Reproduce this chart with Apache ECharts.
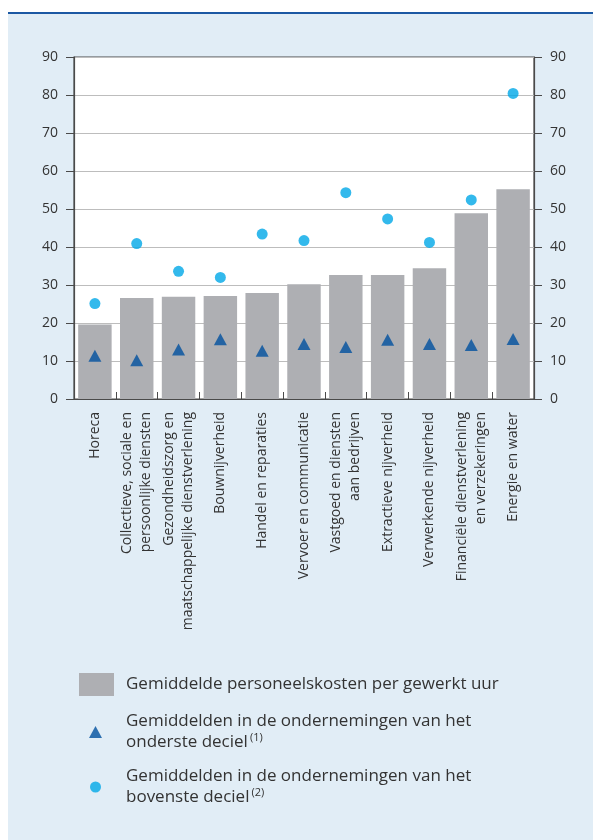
<!DOCTYPE html>
<html>
<head>
<meta charset="utf-8">
<script src="https://cdn.jsdelivr.net/npm/echarts@6/dist/echarts.min.js"></script>
<style>
  html, body { margin: 0; padding: 0; background: #ffffff; }
  #panel {
    position: absolute; left: 8px; top: 12px; right: 0; bottom: 0;
    background: #e1edf6; border-top: 2px solid #1b58a3;
  }
  #chart { position: absolute; left: 0; top: 0; width: 593px; height: 840px; }
</style>
</head>
<body>
<div id="panel"></div>
<div id="chart"></div>
<script>
// Sectors, ordered by average labour cost per hour worked
const categories = [
  'Horeca',
  'Collectieve, sociale en\npersoonlijke diensten',
  'Gezondheidszorg en\nmaatschappelijke dienstverlening',
  'Bouwnijverheid',
  'Handel en reparaties',
  'Vervoer en communicatie',
  'Vastgoed en diensten\naan bedrijven',
  'Extractieve nijverheid',
  'Verwerkende nijverheid',
  'Financiële dienstverlening\nen verzekeringen',
  'Energie en water'
];

// Average personnel cost per hour worked (EUR)
const averageCost = [19.6, 26.6, 26.9, 27.1, 27.9, 30.2, 32.6, 32.6, 34.4, 48.9, 55.2];
// Average in the companies of the lowest decile
const lowestDecile = [11.4, 10.2, 13.0, 15.7, 12.7, 14.5, 13.7, 15.6, 14.5, 14.2, 15.8];
// Average in the companies of the highest decile
const highestDecile = [25.1, 40.9, 33.6, 32.0, 43.4, 41.7, 54.3, 47.4, 41.2, 52.4, 80.4];

const yTicks = { min: 0, max: 90, interval: 10 };

const seriesNames = [
  'Gemiddelde personeelskosten per gewerkt uur',
  'Gemiddelden in de ondernemingen van het\nonderste deciel{sup|(1)}',
  'Gemiddelden in de ondernemingen van het\nbovenste deciel{sup|(2)}'
];

const FONT = '"Open Sans", "Noto Sans", sans-serif';
const legendText = (padLeft) => ({
  color: '#333333', fontFamily: FONT, fontSize: 17, lineHeight: 21,
  padding: [0, 0, 0, padLeft],
  rich: { sup: { fontSize: 11, fontFamily: FONT, color: '#333333', verticalAlign: 'top', padding: [0, 0, 9, 2] } }
});

const chart = echarts.init(document.getElementById('chart'), null, { renderer: 'canvas' });

const valueAxis = (position, margin) => ({
  type: 'value', position,
  min: yTicks.min, max: yTicks.max, interval: yTicks.interval,
  axisLine: { show: true, lineStyle: { color: '#4a4a4a', width: 1.2 } },
  axisTick: { show: true, inside: false, length: 8, lineStyle: { color: '#4a4a4a', width: 1 } },
  axisLabel: { color: '#333333', fontFamily: FONT, fontSize: 14, margin },
  splitLine: { show: position === 'left', lineStyle: { color: '#bdbdbd', width: 1.2 } }
});

chart.setOption({
  animation: false,
  textStyle: { fontFamily: FONT },
  grid: {
    left: 74, right: 59, top: 57, bottom: 441,
    show: true, backgroundColor: '#ffffff', borderColor: '#4a4a4a', borderWidth: 1.2
  },
  legend: [
    {
      data: [{ name: seriesNames[0], icon: 'rect' }],
      left: 79, top: 673, padding: 0, itemWidth: 35, itemHeight: 23,
      selectedMode: false, textStyle: legendText(7)
    },
    {
      data: [{ name: seriesNames[1], icon: 'triangle' }],
      left: 89, top: 711, padding: 0, itemWidth: 13, itemHeight: 12,
      selectedMode: false, textStyle: legendText(19)
    },
    {
      data: [{ name: seriesNames[2], icon: 'circle' }],
      left: 90, top: 766, padding: 0, itemWidth: 11, itemHeight: 11,
      selectedMode: false, textStyle: legendText(20)
    }
  ],
  xAxis: {
    type: 'category',
    data: categories,
    axisLine: { show: true, lineStyle: { color: '#4a4a4a', width: 1.2 } },
    axisTick: { show: true, inside: true, length: 7, alignWithLabel: false, lineStyle: { color: '#4a4a4a', width: 1 } },
    axisLabel: {
      rotate: 90, interval: 0, margin: 13,
      color: '#333333', fontFamily: FONT, fontSize: 14, lineHeight: 19
    },
    splitLine: { show: false }
  },
  yAxis: [valueAxis('left', 16), valueAxis('right', 16)],
  series: [
    {
      name: seriesNames[0], type: 'bar', data: averageCost,
      barWidth: '80%', itemStyle: { color: '#aeafb3' }, z: 2
    },
    {
      name: seriesNames[1], type: 'scatter', data: lowestDecile,
      symbol: 'triangle', symbolSize: [13, 12], itemStyle: { color: '#00509f' }, z: 3
    },
    {
      name: seriesNames[2], type: 'scatter', data: highestDecile,
      symbol: 'circle', symbolSize: 11, itemStyle: { color: '#00a7e7' }, z: 3
    }
  ]
});
</script>
</body>
</html>
